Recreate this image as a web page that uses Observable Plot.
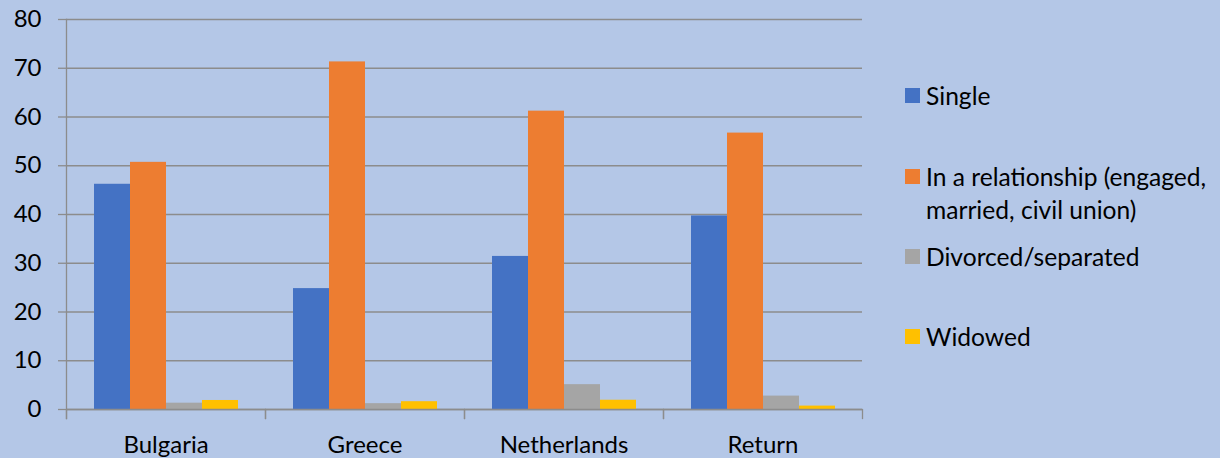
<!DOCTYPE html>
<html>
<head>
<meta charset="utf-8">
<script src="https://cdn.jsdelivr.net/npm/d3@7"></script>
<script src="https://cdn.jsdelivr.net/npm/@observablehq/plot@0.6"></script>
<style>
  html, body { margin: 0; padding: 0; background: #B4C7E7; }
  #wrap { position: relative; width: 1220px; height: 458px; background: #B4C7E7; overflow: hidden; font-family: Lato, "Open Sans", sans-serif; }
  #chart { position: absolute; left: 0; top: 0; }
  .item { position: absolute; left: 905px; display: flex; align-items: flex-start; font-size: 24.6px; line-height: 33px; color: #000; white-space: pre; }
  .sw { width: 15px; height: 15px; margin-top: 9px; margin-right: 6px; flex: none; }
</style>
</head>
<body>
<div id="wrap"><div id="chart"></div></div>
<script>
const categories = ["Bulgaria", "Greece", "Netherlands", "Return"];
const series = ["Single", "In a relationship (engaged, married, civil union)", "Divorced/separated", "Widowed"];
const legendLabels = ["Single", "In a relationship (engaged,\nmarried, civil union)", "Divorced/separated", "Widowed"];
const colors = ["#4472C4", "#ED7D31", "#A5A5A5", "#FFC000"];
const single = [46.2, 24.8, 31.4, 39.7];
const relationship = [50.7, 71.3, 61.2, 56.7];
const divorced = [1.3, 1.2, 5.1, 2.75];
const widowed = [1.85, 1.6, 1.9, 0.7];
const yTicks = [0, 10, 20, 30, 40, 50, 60, 70, 80];
const legendTops = [79, 160, 240, 320];

const valuesBySeries = [single, relationship, divorced, widowed];
const data = [];
categories.forEach((c, i) => {
  series.forEach((s, j) => data.push({category: c, status: s, value: valuesBySeries[j][i]}));
});

const gray = "#8c8c8c";
const plot = Plot.plot({
  width: 1220,
  height: 458,
  marginLeft: 65,
  marginRight: 358,
  marginTop: 19,
  marginBottom: 49,
  style: {background: "transparent", fontFamily: "Lato, 'Open Sans', sans-serif", fontSize: "24px", color: "#000"},
  fx: {domain: categories, padding: 0, label: null},
  x: {domain: series, paddingInner: 0, paddingOuter: 0.75, axis: null},
  y: {domain: [0, 80], label: null},
  color: {domain: series, range: colors},
  marks: [
    Plot.gridY(yTicks, {stroke: gray, strokeOpacity: 1, strokeWidth: 1.3}),
    Plot.barY(data, {fx: "category", x: "status", y: "value", fill: "status"}),
    Plot.ruleY([0], {stroke: gray, strokeWidth: 1.3}),
    Plot.axisY(yTicks, {tickSize: 8, tickPadding: 17, stroke: gray, strokeWidth: 1.3, fill: "#000", label: null, fontSize: 24}),
    Plot.axisFx({anchor: "bottom", tickSize: 0, tickPadding: 26, fontSize: 24, label: null, fill: "#000"}),
    Plot.frame({anchor: "left", insetTop: 390, insetBottom: -9, stroke: gray, strokeWidth: 1.3}),
    Plot.frame({anchor: "right", insetTop: 390, insetBottom: -9, stroke: gray, strokeWidth: 1.3}),
    Plot.frame({anchor: "left", facet: "super", insetBottom: -9, stroke: gray, strokeWidth: 1.3})
  ]
});
document.getElementById("chart").appendChild(plot);

const wrap = document.getElementById("wrap");
legendLabels.forEach((label, i) => {
  const item = document.createElement("div");
  item.className = "item";
  item.style.top = legendTops[i] + "px";
  const sw = document.createElement("div");
  sw.className = "sw";
  sw.style.background = colors[i];
  const t = document.createElement("div");
  t.textContent = label;
  item.appendChild(sw);
  item.appendChild(t);
  wrap.appendChild(item);
});
</script>
</body>
</html>
